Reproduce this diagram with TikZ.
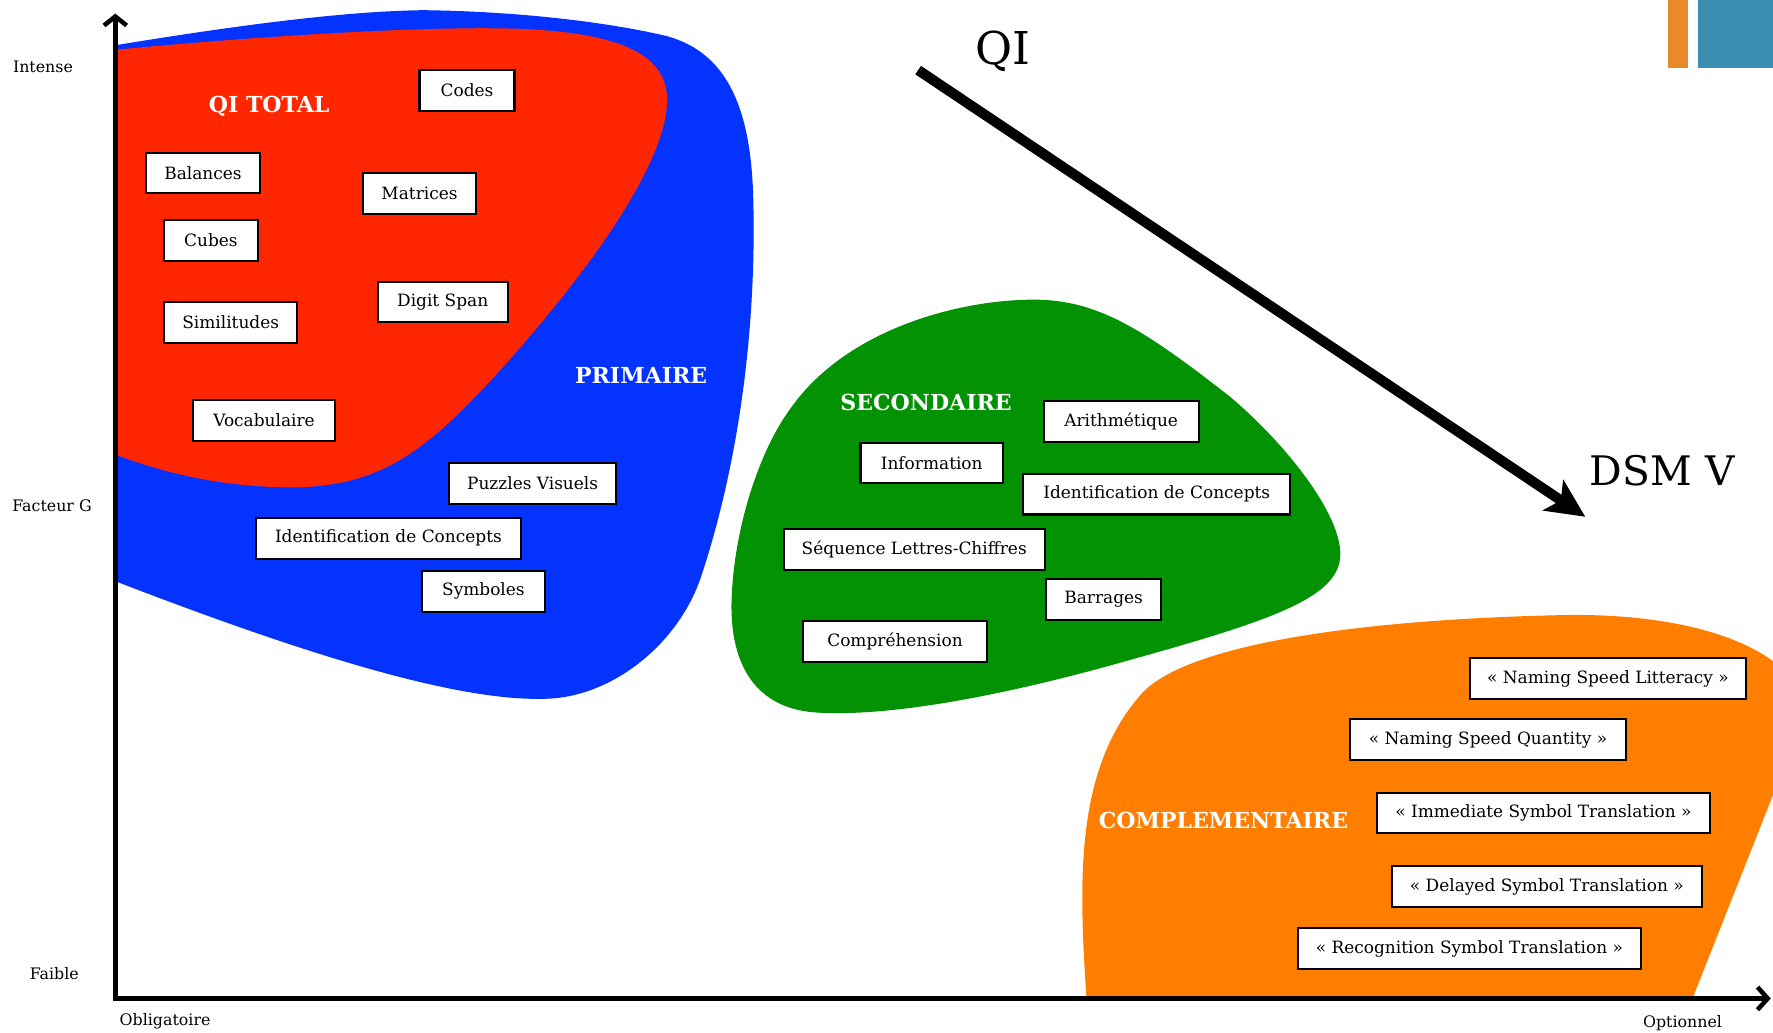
\documentclass[tikz,border=0pt]{standalone}
\usepackage{fontspec}
\setmainfont{DejaVu Serif}
\usetikzlibrary{arrows.meta}
\definecolor{cblue}{HTML}{0433FF}
\definecolor{cred}{HTML}{FF2600}
\definecolor{cgreen}{HTML}{039203}
\definecolor{corange}{HTML}{FF7E00}
\definecolor{barorange}{HTML}{E8892B}
\definecolor{barblue}{HTML}{3A8EB2}
\begin{document}
\begin{tikzpicture}[x=1pt,y=-1pt,
  font=\fontsize{15}{18}\selectfont,
  box/.style={draw=black, line width=1.8pt, fill=white, inner sep=0pt, minimum height=36pt},
  zone/.style={font=\fontsize{19.5}{22}\selectfont\bfseries, text=white},
  axlabel/.style={font=\fontsize{14}{16}\selectfont},
  axisline/.style={line width=4pt, line join=miter, {Straight Barb[length=8pt,width=20pt]}-{Straight Barb[length=9pt,width=20pt]}},
  bigarrow/.style={line width=9pt, -{Stealth[length=34pt,width=32pt,inset=8pt]}}
]
\useasboundingbox (0,0) rectangle (1568,913);
\begin{scope}
\clip (0,0) rectangle (1568,913);
% PRIMAIRE (blue)
\fill[cblue] (102,40) .. controls (200,24) and (300,10) .. (374,9)
  .. controls (460,10) and (540,20) .. (590,32)
  .. controls (640,46) and (663,90) .. (666,170)
  .. controls (670,300) and (650,420) .. (620,510)
  .. controls (600,570) and (540,618) .. (480,618)
  .. controls (400,620) and (260,575) .. (102,514) -- cycle;
% QI TOTAL (red)
\fill[cred] (102,44) .. controls (250,30) and (400,22) .. (470,26)
  .. controls (540,30) and (590,45) .. (590,88)
  .. controls (590,140) and (530,230) .. (440,330)
  .. controls (380,395) and (340,430) .. (260,431)
  .. controls (200,431) and (150,420) .. (102,402) -- cycle;
% SECONDAIRE (green)
\fill[cgreen] (914,265) .. controls (970,265) and (1010,290) .. (1088,351)
  .. controls (1140,395) and (1190,460) .. (1185,495)
  .. controls (1180,530) and (1120,550) .. (998,584)
  .. controls (900,612) and (790,635) .. (720,630)
  .. controls (670,626) and (645,590) .. (647,530)
  .. controls (649,470) and (670,400) .. (700,360)
  .. controls (750,290) and (850,265) .. (914,265) -- cycle;
% COMPLEMENTAIRE (orange)
\fill[corange] (961,885) .. controls (954,780) and (950,680) .. (1010,613)
  .. controls (1050,570) and (1200,548) .. (1380,544)
  .. controls (1470,542) and (1550,560) .. (1585,600)
  .. controls (1600,630) and (1590,650) .. (1568,703)
  -- (1496,885) -- cycle;
\end{scope}
% top-right decoration
\fill[barorange] (1475,0) rectangle (1493,60);
\fill[barblue] (1502,0) rectangle (1568,60);
% axes
\coordinate (ytop) at (102,12);
\coordinate (O) at (102,883);
\coordinate (xend) at (1566,883);
\draw[axisline] (ytop) -- (O) -- (xend);
\node[axlabel] (intense) at (38,59) {Intense};
\node[axlabel] (facteurg) at (46,447) {Facteur G};
\node[axlabel] (faible) at (48,861) {Faible};
\node[axlabel] (oblig) at (146,903) {Obligatoire};
\node[axlabel] (option) at (1488,905) {Optionnel};
% QI -> DSM V arrow
\coordinate (qs) at (812,62);
\coordinate (qe) at (1402,457);
\draw[bigarrow] (qs) -- (qe);
\node[font=\fontsize{40}{44}\selectfont] (qi) at (887,45) {QI};
\node[font=\fontsize{36}{40}\selectfont] (dsm) at (1470,416) {DSM V};
% zone labels
\node[zone] (lqitotal) at (238,94) {QI TOTAL};
\node[zone] (lprim) at (567,332) {PRIMAIRE};
\node[zone] (lsec) at (819,356) {SECONDAIRE};
\node[zone] (lcomp) at (1082,726) {COMPLEMENTAIRE};
% boxes red
\node[box, minimum width=84pt] (codes) at (413,80) {Codes};
\node[box, minimum width=101pt] (balances) at (179.5,153) {Balances};
\node[box, minimum width=100pt] (matrices) at (371,171) {Matrices};
\node[box, minimum width=83pt] (cubes) at (186.5,212.5) {Cubes};
\node[box, minimum width=115pt] (digit) at (391.5,267) {Digit Span};
\node[box, minimum width=118pt] (simil) at (204,285) {Similitudes};
\node[box, minimum width=125pt] (vocab) at (233.5,372) {Vocabulaire};
% boxes blue
\node[box, minimum width=148pt] (puzzles) at (471,427.5) {Puzzles Visuels};
\node[box, minimum width=235pt] (idc1) at (343.5,476) {Identification de Concepts};
\node[box, minimum width=109pt] (symb) at (427.5,523) {Symboles};
% boxes green
\node[box, minimum width=137pt] (arith) at (991.5,372.5) {Arithmétique};
\node[box, minimum width=126pt] (info) at (824,409.5) {Information};
\node[box, minimum width=236pt] (idc2) at (1023,437) {Identification de Concepts};
\node[box, minimum width=231pt] (seq) at (808.5,486) {Séquence Lettres-Chiffres};
\node[box, minimum width=102pt] (barr) at (976,530) {Barrages};
\node[box, minimum width=163pt] (compr) at (791.5,567.5) {Compréhension};
% boxes orange
\node[box, minimum width=244pt] (nsl) at (1422,600) {« Naming Speed Litteracy »};
\node[box, minimum width=244pt] (nsq) at (1316,654) {« Naming Speed Quantity »};
\node[box, minimum width=294pt] (ist) at (1365,719) {« Immediate Symbol Translation »};
\node[box, minimum width=274pt] (dst) at (1368,784) {« Delayed Symbol Translation »};
\node[box, minimum width=303pt] (rst) at (1299.5,839) {« Recognition Symbol Translation »};
\end{tikzpicture}
\end{document}
